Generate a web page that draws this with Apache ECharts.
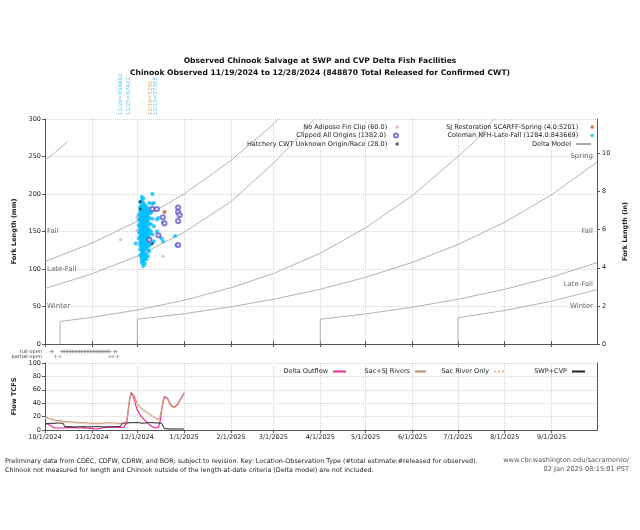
<!DOCTYPE html>
<html><head><meta charset="utf-8">
<script src="https://cdn.jsdelivr.net/npm/echarts@6/dist/echarts.min.js"></script>
<style>html,body{margin:0;padding:0;background:#fff}#c{width:640px;height:530px}</style>
</head><body><div id="c"></div>
<script>
// ---------------- DATA (x values are days since 10/1/2024) ----------------
const titleLines = ['Observed Chinook Salvage at SWP and CVP Delta Fish Facilities',
  'Chinook Observed 11/19/2024 to 12/28/2024 (848870 Total Released for Confirmed CWT)'];
const footerLeft = ['Preliminary data from CDEC, CDFW, CDRW, and BOR; subject to revision. Key: Location-Observation Type (#total estimate:#released for observed).',
  'Chinook not measured for length and Chinook outside of the length-at-date criteria (Delta model) are not included.'];
const footerRight = ['www.cbr.washington.edu/sacramento/', '02 Jan 2025 08:15:01 PST'];

const monthTicks = [[2024,10],[2024,11],[2024,12],[2025,1],[2025,2],[2025,3],[2025,4],[2025,5],[2025,6],[2025,7],[2025,8],[2025,9]];
const inchTicks = [0,2,4,6,8,10];

const legendMain = ['No Adipose Fin Clip (60.0)','Clipped All Origins (1382.0)','Hatchery CWT Unknown Origin/Race (28.0)',
  'SJ Restoration SCARFF-Spring (4.0:5201)','Coleman NFH-Late-Fall (1284.0:843669)','Delta Model'];

// Coleman NFH-Late-Fall: [day, [fork lengths mm]]
const coleman = [
  [60,[134]],
  [62,[141,150,158,166,172]],
  [63,[118,126,131,135,139,142,146,149,152,155,158,161,165,168,172,176,180,183,189]],
  [64,[108,112,115,118,121,125,128,131,133,136,138,141,144,147,150,152,155,157,160,162,164,166,169,171,173,175,178,180,183,186,191,196]],
  [65,[104,110,112,116,119,122,124,127,130,133,136,138,140,143,145,148,150,152,154,157,159,161,163,166,168,170,172,175,177,180,182,185,188,194]],
  [66,[107,113,116,119,122,125,127,130,132,135,137,140,142,144,146,149,151,153,156,158,160,163,165,167,169,172,174,177,179,182,185]],
  [67,[113,117,120,123,126,129,131,135,139,142,144,146,148,151,153,156,158,161,163,166,170,173,176,180,183]],
  [68,[117,124,129,133,137,142,146,150,155,160,164,168,171,175,178]],
  [69,[124,132,141,147,152,160,168,175,181,188]],
  [70,[133,150,160,175]],
  [71,[146,167,187,200]],
  [72,[137,157,188]],
  [74,[150,166]],
  [75,[168]],
  [77,[141]],
  [78,[137,162]],
  [86,[144]],
  [87,[132]]
];
const clipped = [[71,180],[74,180],[75,145],[78,169],[79,161],[88,182],[88,176],[89,172],[88,164],[88,132],[69,139]];
const noAdipose = [[50,139],[61,169],[61,152],[78,117],[67,123]];
const hatcheryCwt = [[63,190],[63,180],[71,134]];
const sjRestoration = [[79,176]];

// Delta model length-at-date boundaries: [day, mm]
const deltaModel = [
  [[0,245],[7,256],[15,270]],
  [[0,110],[31,134.6],[61,163.6],[92,200],[123,244.8],[151,293],[154,300]],
  [[0,74],[31,93.5],[61,117],[92,149],[123,190],[151,241],[165,270],[178,300]],
  [[10,0],[10,30],[31,35.6],[61,45.3],[92,58.3],[123,75],[151,94],[182,121],[212,155],[243,198],[273,250],[283,268],[297,300]],
  [[61,0],[61,33],[92,40.4],[123,49.6],[151,59.6],[182,73],[212,88.9],[243,108.9],[273,132.6],[304,162.5],[335,199],[365,242.5]],
  [[182,0],[182,33],[212,40.1],[243,49.1],[273,59.6],[304,72.9],[335,89.2],[365,108.4]],
  [[273,0],[273,35],[304,44.7],[335,57.1],[365,72.4]]
];
const runLabelsLeft = [['Fall',150],['Late-Fall',100],['Winter',50]];
const runLabelsRight = [['Spring',250],['Fall',150],['Late-Fall',80],['Winter',50]];

// release annotations
const annotDays = [50,55,70,73];
const annotTexts = ['11/20=698892','11/25=67422','12/10=5201','12/13=77355'];

// gate operations (days)
const gateFull = [4,5,11,12,13,14,15,16,17,18,19,20,21,22,23,24,25,26,27,28,29,30,31,32,33,34,35,36,37,38,39,40,41,42,43,46,47];
const gatePartial = [7,10,43,45,48];

// flows (TCFS)
const deltaOutflow = [[0,10],[2,9],[4,6],[6,3.5],[8,3],[10,3],[12,3],[14,3.5],[16,4],[18,3.5],[20,3.5],[22,3],[24,3],[26,3.5],[28,3],[30,2.5],[32,2],[34,1.5],[36,2.5],[38,3],[40,4],[42,4.5],[44,4],[46,4.5],[48,4],[50,4],[52,4],[53,5],[54,10],[55,28],[56,46],[57,56],[58,54],[59,46],[60,37],[61,30],[62,26],[63,22],[65,17],[67,12],[69,8],[71,5],[73,3],[75,4],[76,12],[77,27],[78,41],[79,50],[80,51],[81,47],[82,42],[83,38],[84,35],[85,34],[86,34],[87,36],[88,39],[89,43],[90,47],[91,51],[92,55]];
const sacSJ = [[0,19],[2,18],[4,16],[6,15],[8,14],[10,14],[12,13],[14,12.5],[16,12],[18,12],[20,11.5],[22,11],[24,11],[26,10.5],[28,10.5],[30,10],[32,10],[34,10],[36,10],[38,10],[40,10.5],[42,11],[44,10.5],[46,10.5],[48,10],[50,10],[52,9.5],[53,10],[54,14],[55,30],[56,47],[57,56],[58,57],[59,52],[60,45],[61,40],[62,37],[63,34],[65,30],[67,27],[69,24],[71,21],[73,18],[75,16],[76,19],[77,30],[78,43],[79,50],[80,51],[81,48],[82,43],[83,39],[84,36],[85,35],[86,35],[87,37],[88,40],[89,44],[90,48],[91,52],[92,56]];
const sacOnly = [[0,17.5],[3,16],[6,13.5],[9,12.5],[12,11.5],[15,11],[18,10.5],[21,10],[24,9.5],[27,9],[30,9],[33,8.5],[36,8.5],[39,9],[42,9.5],[45,9],[48,8.5],[51,8.5],[53,9],[54,12],[55,27],[56,44],[57,53],[58,55],[59,50],[60,43],[61,38],[63,32],[65,28],[67,25],[69,22],[71,19],[73,16.5],[75,14.5],[76,17],[77,28],[78,41],[79,48],[80,49],[81,46],[82,41],[83,37],[84,34],[85,33],[86,33],[87,35],[88,38],[89,42],[90,46],[91,50],[92,54]];
const swpCvp = [[0,9],[3,10],[6,10],[9,10.5],[12,10],[13,5],[16,5],[20,4.5],[24,5],[28,4.5],[32,5],[36,5],[40,4.5],[44,5],[48,5],[50,5.5],[51,10],[54,10.5],[58,11],[62,11],[64,10],[65,8],[66,10.5],[70,11],[74,10.5],[77,10.5],[78,10],[79,2],[82,1.5],[86,1.5],[89,1.5],[92,1.5]];
const flowNames = ['Delta Outflow','Sac+SJ Rivers','Sac River Only','SWP+CVP'];

// ---------------- HELPERS / STYLE ----------------
const BASE = Date.UTC(2024,9,1), DAY = 86400000;
const T = d => BASE + d*DAY;
const pts = arr => arr.map(p => [T(p[0]), p[1]]);
const FF = "'DejaVu Sans', sans-serif";
const tickVals = monthTicks.map(m => Date.UTC(m[0], m[1]-1, 1));
const fmtDate = v => { const d = new Date(v); return (d.getUTCMonth()+1)+'/'+d.getUTCDate()+'/'+d.getUTCFullYear(); };
const AX = '#555', GRIDC = '#d4d4d4', TXT = '#222';
const lbl = {fontSize:6.5, color:TXT, fontFamily:FF};
const COL = {noAd:'#d9a6d9', clip:'#6a5acd', hat:'#3a3a3a', sj:'#e0521b', cole:'#00bfff', delta:'#a9a9a9',
  annot:['#2cbcf2','#2cbcf2','#ec8d4f','#2cbcf2'], flow:['#f0299a','#b98c6c','#f2b48c','#222']};

const colemanPts = [];
coleman.forEach(([d, ls]) => ls.forEach(l => colemanPts.push([T(d), l])));

const timeAxisBase = {type:'value', min:T(0), max:T(365), scale:false};

const series = [];
deltaModel.forEach(seg => series.push({type:'line', name:'Delta Model', xAxisIndex:0, yAxisIndex:0, data:pts(seg),
  symbol:'none', silent:true, z:1, lineStyle:{color:COL.delta, width:0.9}, itemStyle:{color:COL.delta}}));
series.push({type:'scatter', name:legendMain[4], xAxisIndex:0, yAxisIndex:0, data:colemanPts, symbol:'circle', symbolSize:4.2, itemStyle:{color:COL.cole}, z:3});
series.push({type:'scatter', name:legendMain[1], xAxisIndex:0, yAxisIndex:0, data:pts(clipped), symbol:'emptyCircle', symbolSize:4.2, itemStyle:{color:COL.clip, borderWidth:0.7}, z:4});
series.push({type:'scatter', name:legendMain[0], xAxisIndex:0, yAxisIndex:0, data:pts(noAdipose), symbol:'circle', symbolSize:3.2, itemStyle:{color:COL.noAd}, z:4});
series.push({type:'scatter', name:legendMain[2], xAxisIndex:0, yAxisIndex:0, data:pts(hatcheryCwt), symbol:'circle', symbolSize:3.2, itemStyle:{color:COL.hat}, z:5});
series.push({type:'scatter', name:legendMain[3], xAxisIndex:0, yAxisIndex:0, data:pts(sjRestoration), symbol:'circle', symbolSize:4, itemStyle:{color:COL.sj}, z:5});
// run labels
series.push({type:'scatter', xAxisIndex:0, yAxisIndex:0, symbolSize:0, silent:true, clip:false,
  data:runLabelsLeft.map(r => ({name:r[0], value:[T(0), r[1]]})),
  label:{show:true, position:'right', distance:2, formatter:'{b}', fontSize:7, color:'#444', fontFamily:FF}});
series.push({type:'scatter', xAxisIndex:0, yAxisIndex:0, symbolSize:0, silent:true, clip:false,
  data:runLabelsRight.map(r => ({name:r[0], value:[T(365), r[1]]})),
  label:{show:true, position:'left', distance:4, formatter:'{b}', fontSize:7, color:'#444', fontFamily:FF}});
// release annotations above plot
series.push({type:'scatter', xAxisIndex:0, yAxisIndex:0, symbolSize:0, silent:true, clip:false,
  data:annotDays.map((d,i) => ({name:annotTexts[i], value:[T(d), 300],
    label:{color:COL.annot[i]}})),
  label:{show:true, position:'top', distance:4, rotate:90, align:'left', verticalAlign:'middle', formatter:'{b}', fontSize:5.5, fontFamily:FF}});
// gate ops
const plusPath = 'path://M4,0h2v4h4v2h-4v4h-2v-4h-4v-2h4z';
series.push({type:'scatter', xAxisIndex:2, yAxisIndex:2, symbol:plusPath, symbolSize:3.6, itemStyle:{color:'#777'}, silent:true,
  data:gateFull.map(d => [T(d), 'full-open'])});
series.push({type:'scatter', xAxisIndex:2, yAxisIndex:2, symbol:plusPath, symbolSize:3.6, itemStyle:{color:'#777'}, silent:true,
  data:gatePartial.map(d => [T(d), 'partial-open'])});
// flows
[[deltaOutflow,'solid',1.2],[sacSJ,'solid',1],[sacOnly,'dotted',1],[swpCvp,'solid',1]].forEach((f,i) => {
  series.push({type:'line', name:flowNames[i], xAxisIndex:3, yAxisIndex:3, data:pts(f[0]), symbol:'none',
    lineStyle:{color:COL.flow[i], width:f[2], type:f[1]}, itemStyle:{color:COL.flow[i]}, z: i===2 ? 3 : 2});
});

// legends: [name, rightPx, topPx, itemWidth, kind] kind: 0 dot, 1 line, 2 ring
const legSpecs = [
  [legendMain[0],241,123.5,10,0],[legendMain[1],241,132,10,2],[legendMain[2],241,140.5,10,0],
  [legendMain[3],46,123.5,18,0],[legendMain[4],46,132,18,0],[legendMain[5],48,140.5,15,1],
  [flowNames[0],293,368,13,1],[flowNames[1],213,368,11,1],[flowNames[2],135,368,10,1],[flowNames[3],54,368,13,1]
];
const legends = legSpecs.map(s => ({data:[s[0]], right:s[1], top:s[2], padding:0, align:'right', itemWidth:s[3],
  itemHeight: s[4]===1 ? 6 : (s[4]===2 ? 4 : 3.6),
  selectedMode:false, itemStyle: s[4]===1 ? {opacity:0, borderWidth:0} : (s[4]===2 ? {borderWidth:0.7} : {}),
  textStyle:{fontSize:6.5, color:TXT, fontFamily:FF, padding:[0,0,0,0]}}));

const option = {
  animation:false,
  backgroundColor:'#fff',
  title:{text:titleLines.join('\n'), left:'center', top:50, textStyle:{fontSize:7.6, fontWeight:'bold', color:'#111', lineHeight:12, fontFamily:FF}},
  legend:legends,
  grid:[
    {left:45, top:119, width:552, height:225},
    {left:45, top:349, width:552, height:10},
    {left:45, top:363, width:552, height:67}
  ],
  xAxis:[
    Object.assign({}, timeAxisBase, {gridIndex:0, position:'bottom', axisLine:{lineStyle:{color:AX}},
      axisTick:{inside:true, length:3, customValues:tickVals, lineStyle:{color:AX}}, axisLabel:{show:false},
      splitLine:{show:true, lineStyle:{type:'dotted', color:GRIDC}}}),
    Object.assign({}, timeAxisBase, {gridIndex:0, position:'top', axisLine:{lineStyle:{color:AX}},
      axisTick:{inside:true, length:3, customValues:tickVals, lineStyle:{color:AX}}, axisLabel:{show:false}, splitLine:{show:false}}),
    Object.assign({}, timeAxisBase, {gridIndex:1, show:false}),
    Object.assign({}, timeAxisBase, {gridIndex:2, position:'bottom', axisLine:{lineStyle:{color:AX}},
      axisTick:{length:3, customValues:tickVals, lineStyle:{color:AX}},
      axisLabel:Object.assign({customValues:tickVals, formatter:fmtDate, margin:4}, lbl),
      splitLine:{show:true, lineStyle:{type:'dotted', color:GRIDC}}}),
    Object.assign({}, timeAxisBase, {gridIndex:2, position:'top', axisLine:{lineStyle:{color:AX}}, axisTick:{show:false}, axisLabel:{show:false}, splitLine:{show:false}})
  ],
  yAxis:[
    {type:'value', gridIndex:0, min:0, max:300, interval:50, position:'left',
      name:'Fork Length (mm)', nameLocation:'middle', nameGap:27, nameTextStyle:{fontSize:6.5, fontWeight:'bold', color:TXT, fontFamily:FF},
      axisLine:{show:true, lineStyle:{color:AX}}, axisTick:{show:true, length:3, lineStyle:{color:AX}},
      axisLabel:Object.assign({margin:4}, lbl), splitLine:{show:true, lineStyle:{type:'dotted', color:GRIDC}}},
    {type:'value', gridIndex:0, min:0, max:300/25.4, position:'right',
      name:'Fork Length (in)', nameLocation:'middle', nameGap:25, nameTextStyle:{fontSize:6.5, fontWeight:'bold', color:TXT, fontFamily:FF},
      axisLine:{show:true, lineStyle:{color:AX}}, axisTick:{show:true, length:3, customValues:inchTicks, lineStyle:{color:AX}},
      axisLabel:Object.assign({margin:5, customValues:inchTicks}, lbl), splitLine:{show:false}},
    {type:'category', gridIndex:1, data:['partial-open','full-open'], axisLine:{show:false}, axisTick:{show:false},
      axisLabel:{interval:0, fontSize:5, color:'#444', fontFamily:FF, margin:3}, splitLine:{show:false}},
    {type:'value', gridIndex:2, min:0, max:100, interval:20, position:'left',
      name:'Flow TCFS', nameLocation:'middle', nameGap:27, nameTextStyle:{fontSize:6.5, fontWeight:'bold', color:TXT, fontFamily:FF},
      axisLine:{show:true, lineStyle:{color:AX}}, axisTick:{show:true, length:3, lineStyle:{color:AX}},
      axisLabel:Object.assign({margin:4}, lbl), splitLine:{show:true, lineStyle:{type:'dotted', color:GRIDC}}},
    {type:'value', gridIndex:2, min:0, max:100, position:'right', axisLine:{show:true, lineStyle:{color:AX}},
      axisTick:{show:false}, axisLabel:{show:false}, splitLine:{show:false}}
  ],
  graphic:[
    {type:'text', left:5, top:456.5, silent:true, style:{text:footerLeft.join('\n'), font:"6.4px 'DejaVu Sans'", fill:'#222', lineHeight:9}},
    {type:'text', right:11, top:456.5, silent:true, style:{text:footerRight[0], font:"6.6px 'DejaVu Sans'", fill:'#555'}},
    {type:'text', right:11, top:465.5, silent:true, style:{text:footerRight[1], font:"6.6px 'DejaVu Sans'", fill:'#555'}}
  ],
  series:series
};
const chart = echarts.init(document.getElementById('c'));
chart.setOption(option);
</script></body></html>
